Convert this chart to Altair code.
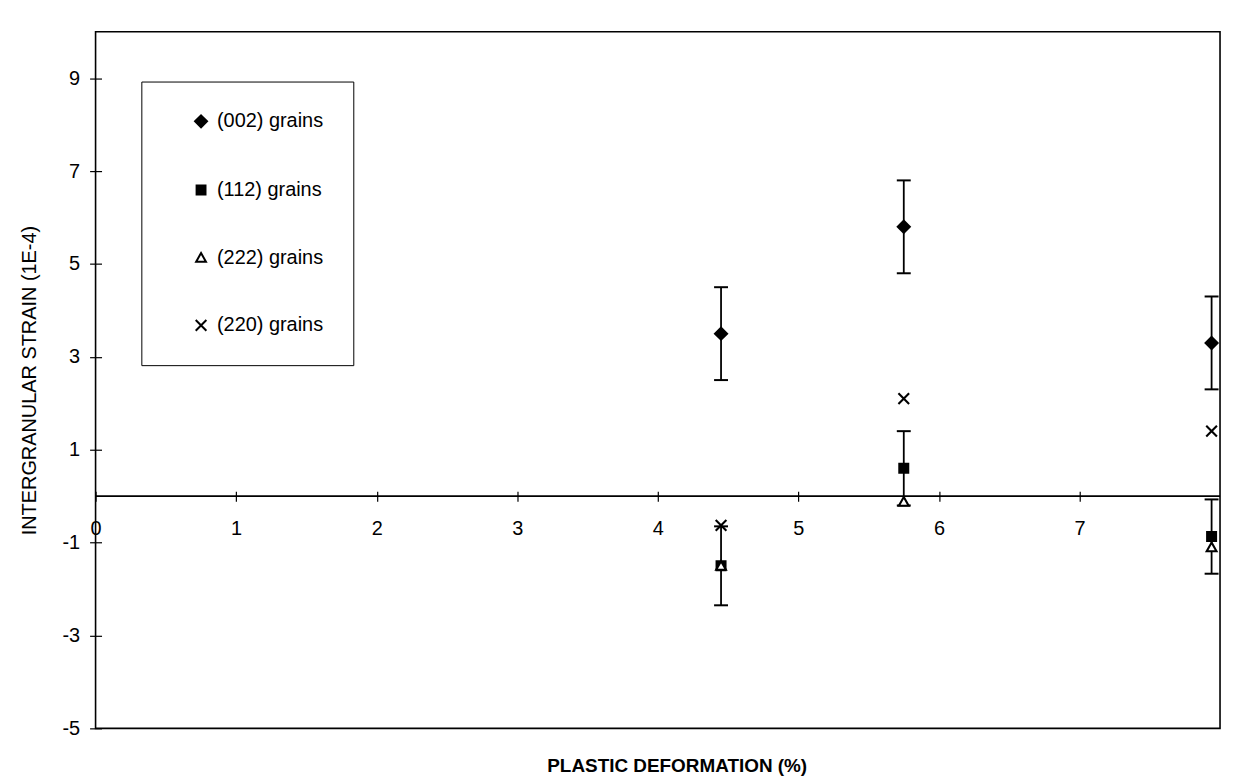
import altair as alt
import pandas as pd

# ---- data ----
series_names = ["(002) grains", "(112) grains", "(222) grains", "(220) grains"]
x_pos = [4.45, 5.75, 7.94]

y_002 = [3.5, 5.8, 3.3]
err_002 = [1.0, 1.0, 1.0]
y_112 = [-1.5, 0.6, -0.87]
err_112 = [0.85, 0.8, 0.8]
y_222 = [-1.5, -0.12, -1.1]
y_220 = [-0.63, 2.1, 1.4]

x_ticks = [0, 1, 2, 3, 4, 5, 6, 7]
y_ticks = [-5, -3, -1, 1, 3, 5, 7, 9]
x_domain = [0, 8]
y_domain = [-5, 10]

# ---- tables ----
rows = []
for name, ys in zip(series_names, [y_002, y_112, y_222, y_220]):
    for xv, yv in zip(x_pos, ys):
        rows.append({"series": name, "x": xv, "y": yv})
pts = pd.DataFrame(rows)

err_rows = []
for ys, es in [(y_002, err_002), (y_112, err_112)]:
    for xv, yv, ev in zip(x_pos, ys, es):
        err_rows.append({"x": xv, "lo": yv - ev, "hi": yv + ev})
errs = pd.DataFrame(err_rows)

W, H = 1130, 700
FONT = "Liberation Sans"
x_axis_offset = -(H * (0 - y_domain[0]) / (y_domain[1] - y_domain[0])) - 5

xs = alt.Scale(domain=x_domain, nice=False, zero=False)
ys = alt.Scale(domain=y_domain, nice=False, zero=False)

label_expr = "toString(datum.value)"

x_enc = alt.X(
    "x:Q", scale=xs,
    axis=alt.Axis(
        values=x_ticks, title="PLASTIC DEFORMATION (%)", grid=False, domain=False,
        offset=x_axis_offset, tickSize=10, tickColor="black", tickWidth=1.2,
        labelPadding=18, labelFlush=False, labelFontSize=20, labelFont=FONT,
        labelColor="black", labelExpr=label_expr,
        titleFont=FONT, titleFontSize=19, titleFontWeight="bold",
        titleColor="black", titleY=276, titleX=584, titleBaseline="middle",
    ),
)
y_enc = alt.Y(
    "y:Q", scale=ys,
    axis=alt.Axis(
        values=y_ticks, title="INTERGRANULAR STRAIN (1E-4)", grid=False, domain=False,
        offset=-6, tickSize=12, tickColor="black", tickWidth=1.2,
        labelPadding=10, labelFontSize=20, labelFont=FONT, labelColor="black",
        labelExpr=label_expr,
        titleFont=FONT, titleFontSize=20, titleFontWeight="normal", titleColor="black",
        titleX=-62,
    ),
)

zero = alt.Chart(pd.DataFrame({"y": [0]})).mark_rule(color="black", strokeWidth=1.6).encode(
    y=alt.Y("y:Q", scale=ys)
)

bars = alt.Chart(errs).mark_rule(color="black", strokeWidth=1.8).encode(
    x=alt.X("x:Q", scale=xs), y=alt.Y("lo:Q", scale=ys), y2="hi:Q"
)

caps = alt.Chart(errs).transform_fold(["lo", "hi"], as_=["end", "yy"]).mark_tick(
    orient="horizontal", size=14, thickness=2, color="black", opacity=1
).encode(x=alt.X("x:Q", scale=xs), y=alt.Y("yy:Q", scale=ys))

diamond_path = "M0,-1.35L1.35,0L0,1.35L-1.35,0Z"
square_path = "M-1,-1L1,-1L1,1L-1,1Z"
triangle_path = "M0,-1.05L1.1,0.9L-1.1,0.9Z"
cross_path = "M-1.2,-1.2L1.2,1.2M-1.2,1.2L1.2,-1.2"

legend_def = alt.Legend(
    title=None,
    labelExpr="datum.label + '\u00a0\u00a0\u00a0\u00a0\u00a0\u00a0\u00a0\u00a0\u00a0'",
)
points = alt.Chart(pts).mark_point(size=80, strokeWidth=2.1, opacity=1).encode(
    x=x_enc,
    y=y_enc,
    shape=alt.Shape(
        "series:N",
        scale=alt.Scale(domain=series_names,
                        range=[diamond_path, square_path, triangle_path, cross_path]),
        legend=legend_def,
    ),
    fill=alt.Fill(
        "series:N",
        scale=alt.Scale(domain=series_names,
                        range=["black", "black", "white", "transparent"]),
        legend=legend_def,
    ),
    stroke=alt.Stroke(
        "series:N",
        scale=alt.Scale(domain=series_names,
                        range=["black", "black", "black", "black"]),
        legend=legend_def,
    ),
    order=alt.Order("series:N"),
)

chart = alt.layer(zero, bars, caps, points).properties(
    width=W, height=H,
    autosize=alt.AutoSizeParams(type="none"),
    padding={"left": 88, "top": 22, "right": 5, "bottom": 52},
).configure_view(
    stroke="black", strokeWidth=1.6
).configure_legend(
    orient="none", legendX=46, legendY=50,
    padding=30, rowPadding=48, symbolOffset=20, labelOffset=6,
    labelFont=FONT, labelFontSize=20, labelColor="black",
    symbolSize=80, symbolStrokeWidth=2,
    strokeColor="black", fillColor="white", cornerRadius=0,
)

chart.save("out.html", embed_options={"renderer": "svg", "actions": False})
